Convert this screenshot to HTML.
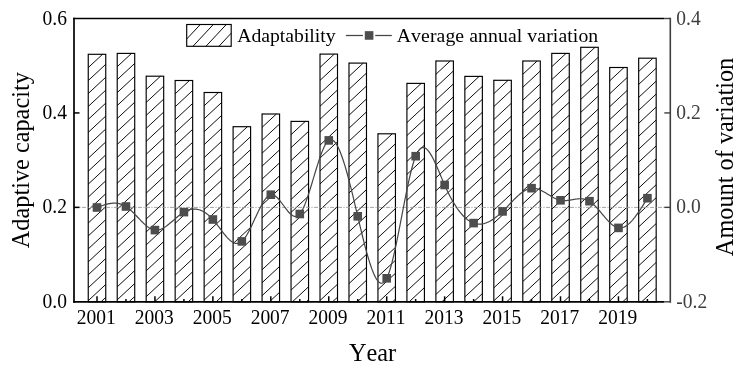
<!DOCTYPE html>
<html><head><meta charset="utf-8"><title>chart</title>
<style>html,body{margin:0;padding:0;background:#fff;}svg{display:block;will-change:transform;}text{font-family:"Liberation Serif",serif;font-kerning:none;}</style>
</head><body>
<svg width="740" height="369" viewBox="0 0 740 369">
<rect x="0" y="0" width="740" height="369" fill="#ffffff"/>
<path d="M88.25 54.65L88.63 54.30M88.25 67.60L102.55 54.30M88.25 80.55L105.75 64.27M88.25 93.50L105.75 77.22M88.25 106.45L105.75 90.17M88.25 119.40L105.75 103.12M88.25 132.35L105.75 116.07M88.25 145.30L105.75 129.02M88.25 158.25L105.75 141.97M88.25 171.20L105.75 154.92M88.25 184.15L105.75 167.87M88.25 197.10L105.75 180.82M88.25 210.05L105.75 193.77M88.25 223.00L105.75 206.72M88.25 235.95L105.75 219.67M88.25 248.90L105.75 232.62M88.25 261.85L105.75 245.58M88.25 274.80L105.75 258.52M88.25 287.75L105.75 271.48M88.25 300.70L105.75 284.43M100.99 301.80L105.75 297.38" stroke="#000" stroke-width="0.95" fill="none"/>
<rect x="88.25" y="54.30" width="17.50" height="247.50" fill="none" stroke="#000" stroke-width="1.15"/>
<path d="M117.22 53.75L117.60 53.40M117.22 66.70L131.52 53.40M117.22 79.65L134.72 63.38M117.22 92.60L134.72 76.32M117.22 105.55L134.72 89.27M117.22 118.50L134.72 102.22M117.22 131.45L134.72 115.17M117.22 144.40L134.72 128.12M117.22 157.35L134.72 141.07M117.22 170.30L134.72 154.03M117.22 183.25L134.72 166.97M117.22 196.20L134.72 179.92M117.22 209.15L134.72 192.87M117.22 222.10L134.72 205.82M117.22 235.05L134.72 218.78M117.22 248.00L134.72 231.72M117.22 260.95L134.72 244.67M117.22 273.90L134.72 257.62M117.22 286.85L134.72 270.57M117.22 299.80L134.72 283.53M128.99 301.80L134.72 296.48" stroke="#000" stroke-width="0.95" fill="none"/>
<rect x="117.22" y="53.40" width="17.50" height="248.40" fill="none" stroke="#000" stroke-width="1.15"/>
<path d="M146.19 76.55L146.57 76.20M146.19 89.50L160.49 76.20M146.19 102.45L163.69 86.17M146.19 115.40L163.69 99.12M146.19 128.35L163.69 112.07M146.19 141.30L163.69 125.03M146.19 154.25L163.69 137.97M146.19 167.20L163.69 150.92M146.19 180.15L163.69 163.87M146.19 193.10L163.69 176.82M146.19 206.05L163.69 189.78M146.19 219.00L163.69 202.72M146.19 231.95L163.69 215.67M146.19 244.90L163.69 228.62M146.19 257.85L163.69 241.58M146.19 270.80L163.69 254.52M146.19 283.75L163.69 267.48M146.19 296.70L163.69 280.43M154.63 301.80L163.69 293.38" stroke="#000" stroke-width="0.95" fill="none"/>
<rect x="146.19" y="76.20" width="17.50" height="225.60" fill="none" stroke="#000" stroke-width="1.15"/>
<path d="M175.16 80.85L175.54 80.50M175.16 93.80L189.46 80.50M175.16 106.75L192.66 90.47M175.16 119.70L192.66 103.42M175.16 132.65L192.66 116.37M175.16 145.60L192.66 129.32M175.16 158.55L192.66 142.28M175.16 171.50L192.66 155.22M175.16 184.45L192.66 168.17M175.16 197.40L192.66 181.12M175.16 210.35L192.66 194.07M175.16 223.30L192.66 207.03M175.16 236.25L192.66 219.97M175.16 249.20L192.66 232.92M175.16 262.15L192.66 245.87M175.16 275.10L192.66 258.82M175.16 288.05L192.66 271.78M175.16 301.00L192.66 284.73M188.22 301.80L192.66 297.68" stroke="#000" stroke-width="0.95" fill="none"/>
<rect x="175.16" y="80.50" width="17.50" height="221.30" fill="none" stroke="#000" stroke-width="1.15"/>
<path d="M204.13 92.85L204.51 92.50M204.13 105.80L218.43 92.50M204.13 118.75L221.63 102.47M204.13 131.70L221.63 115.42M204.13 144.65L221.63 128.37M204.13 157.60L221.63 141.32M204.13 170.55L221.63 154.28M204.13 183.50L221.63 167.22M204.13 196.45L221.63 180.17M204.13 209.40L221.63 193.12M204.13 222.35L221.63 206.07M204.13 235.30L221.63 219.03M204.13 248.25L221.63 231.97M204.13 261.20L221.63 244.92M204.13 274.15L221.63 257.88M204.13 287.10L221.63 270.82M204.13 300.05L221.63 283.78M216.17 301.80L221.63 296.73" stroke="#000" stroke-width="0.95" fill="none"/>
<rect x="204.13" y="92.50" width="17.50" height="209.30" fill="none" stroke="#000" stroke-width="1.15"/>
<path d="M233.10 127.05L233.48 126.70M233.10 140.00L247.40 126.70M233.10 152.95L250.60 136.67M233.10 165.90L250.60 149.62M233.10 178.85L250.60 162.57M233.10 191.80L250.60 175.53M233.10 204.75L250.60 188.47M233.10 217.70L250.60 201.42M233.10 230.65L250.60 214.37M233.10 243.60L250.60 227.32M233.10 256.55L250.60 240.28M233.10 269.50L250.60 253.22M233.10 282.45L250.60 266.18M233.10 295.40L250.60 279.12M240.14 301.80L250.60 292.08" stroke="#000" stroke-width="0.95" fill="none"/>
<rect x="233.10" y="126.70" width="17.50" height="175.10" fill="none" stroke="#000" stroke-width="1.15"/>
<path d="M262.07 114.35L262.45 114.00M262.07 127.30L276.37 114.00M262.07 140.25L279.57 123.97M262.07 153.20L279.57 136.92M262.07 166.15L279.57 149.87M262.07 179.10L279.57 162.82M262.07 192.05L279.57 175.78M262.07 205.00L279.57 188.72M262.07 217.95L279.57 201.67M262.07 230.90L279.57 214.62M262.07 243.85L279.57 227.57M262.07 256.80L279.57 240.53M262.07 269.75L279.57 253.47M262.07 282.70L279.57 266.43M262.07 295.65L279.57 279.38M269.38 301.80L279.57 292.32" stroke="#000" stroke-width="0.95" fill="none"/>
<rect x="262.07" y="114.00" width="17.50" height="187.80" fill="none" stroke="#000" stroke-width="1.15"/>
<path d="M291.04 121.75L291.42 121.40M291.04 134.70L305.34 121.40M291.04 147.65L308.54 131.38M291.04 160.60L308.54 144.33M291.04 173.55L308.54 157.28M291.04 186.50L308.54 170.22M291.04 199.45L308.54 183.18M291.04 212.40L308.54 196.12M291.04 225.35L308.54 209.08M291.04 238.30L308.54 222.03M291.04 251.25L308.54 234.97M291.04 264.20L308.54 247.93M291.04 277.15L308.54 260.88M291.04 290.10L308.54 273.83M292.38 301.80L308.54 286.78M306.31 301.80L308.54 299.73" stroke="#000" stroke-width="0.95" fill="none"/>
<rect x="291.04" y="121.40" width="17.50" height="180.40" fill="none" stroke="#000" stroke-width="1.15"/>
<path d="M320.01 54.45L320.39 54.10M320.01 67.40L334.31 54.10M320.01 80.35L337.51 64.08M320.01 93.30L337.51 77.03M320.01 106.25L337.51 89.97M320.01 119.20L337.51 102.92M320.01 132.15L337.51 115.88M320.01 145.10L337.51 128.82M320.01 158.05L337.51 141.78M320.01 171.00L337.51 154.72M320.01 183.95L337.51 167.67M320.01 196.90L337.51 180.62M320.01 209.85L337.51 193.57M320.01 222.80L337.51 206.52M320.01 235.75L337.51 219.47M320.01 248.70L337.51 232.42M320.01 261.65L337.51 245.37M320.01 274.60L337.51 258.33M320.01 287.55L337.51 271.27M320.01 300.50L337.51 284.23M332.54 301.80L337.51 297.18" stroke="#000" stroke-width="0.95" fill="none"/>
<rect x="320.01" y="54.10" width="17.50" height="247.70" fill="none" stroke="#000" stroke-width="1.15"/>
<path d="M348.98 63.45L349.36 63.10M348.98 76.40L363.28 63.10M348.98 89.35L366.48 73.08M348.98 102.30L366.48 86.03M348.98 115.25L366.48 98.97M348.98 128.20L366.48 111.92M348.98 141.15L366.48 124.88M348.98 154.10L366.48 137.82M348.98 167.05L366.48 150.78M348.98 180.00L366.48 163.72M348.98 192.95L366.48 176.67M348.98 205.90L366.48 189.62M348.98 218.85L366.48 202.57M348.98 231.80L366.48 215.52M348.98 244.75L366.48 228.47M348.98 257.70L366.48 241.42M348.98 270.65L366.48 254.37M348.98 283.60L366.48 267.33M348.98 296.55L366.48 280.27M357.26 301.80L366.48 293.23" stroke="#000" stroke-width="0.95" fill="none"/>
<rect x="348.98" y="63.10" width="17.50" height="238.70" fill="none" stroke="#000" stroke-width="1.15"/>
<path d="M377.95 134.15L378.33 133.80M377.95 147.10L392.25 133.80M377.95 160.05L395.45 143.78M377.95 173.00L395.45 156.73M377.95 185.95L395.45 169.68M377.95 198.90L395.45 182.63M377.95 211.85L395.45 195.58M377.95 224.80L395.45 208.53M377.95 237.75L395.45 221.47M377.95 250.70L395.45 234.43M377.95 263.65L395.45 247.38M377.95 276.60L395.45 260.33M377.95 289.55L395.45 273.28M378.70 301.80L395.45 286.23M392.63 301.80L395.45 299.18" stroke="#000" stroke-width="0.95" fill="none"/>
<rect x="377.95" y="133.80" width="17.50" height="168.00" fill="none" stroke="#000" stroke-width="1.15"/>
<path d="M406.92 83.75L407.30 83.40M406.92 96.70L421.22 83.40M406.92 109.65L424.42 93.38M406.92 122.60L424.42 106.32M406.92 135.55L424.42 119.28M406.92 148.50L424.42 132.22M406.92 161.45L424.42 145.17M406.92 174.40L424.42 158.12M406.92 187.35L424.42 171.07M406.92 200.30L424.42 184.03M406.92 213.25L424.42 196.97M406.92 226.20L424.42 209.92M406.92 239.15L424.42 222.87M406.92 252.10L424.42 235.82M406.92 265.05L424.42 248.78M406.92 278.00L424.42 261.73M406.92 290.95L424.42 274.68M409.18 301.80L424.42 287.62M423.10 301.80L424.42 300.57" stroke="#000" stroke-width="0.95" fill="none"/>
<rect x="406.92" y="83.40" width="17.50" height="218.40" fill="none" stroke="#000" stroke-width="1.15"/>
<path d="M435.89 61.35L436.27 61.00M435.89 74.30L450.19 61.00M435.89 87.25L453.39 70.97M435.89 100.20L453.39 83.92M435.89 113.15L453.39 96.87M435.89 126.10L453.39 109.82M435.89 139.05L453.39 122.78M435.89 152.00L453.39 135.72M435.89 164.95L453.39 148.67M435.89 177.90L453.39 161.62M435.89 190.85L453.39 174.57M435.89 203.80L453.39 187.53M435.89 216.75L453.39 200.47M435.89 229.70L453.39 213.42M435.89 242.65L453.39 226.37M435.89 255.60L453.39 239.32M435.89 268.55L453.39 252.28M435.89 281.50L453.39 265.23M435.89 294.45L453.39 278.18M441.91 301.80L453.39 291.12" stroke="#000" stroke-width="0.95" fill="none"/>
<rect x="435.89" y="61.00" width="17.50" height="240.80" fill="none" stroke="#000" stroke-width="1.15"/>
<path d="M464.86 76.75L465.24 76.40M464.86 89.70L479.16 76.40M464.86 102.65L482.36 86.38M464.86 115.60L482.36 99.32M464.86 128.55L482.36 112.28M464.86 141.50L482.36 125.22M464.86 154.45L482.36 138.17M464.86 167.40L482.36 151.12M464.86 180.35L482.36 164.07M464.86 193.30L482.36 177.03M464.86 206.25L482.36 189.97M464.86 219.20L482.36 202.92M464.86 232.15L482.36 215.87M464.86 245.10L482.36 228.82M464.86 258.05L482.36 241.78M464.86 271.00L482.36 254.72M464.86 283.95L482.36 267.68M464.86 296.90L482.36 280.62M473.52 301.80L482.36 293.57" stroke="#000" stroke-width="0.95" fill="none"/>
<rect x="464.86" y="76.40" width="17.50" height="225.40" fill="none" stroke="#000" stroke-width="1.15"/>
<path d="M493.83 80.65L494.21 80.30M493.83 93.60L508.13 80.30M493.83 106.55L511.33 90.27M493.83 119.50L511.33 103.22M493.83 132.45L511.33 116.17M493.83 145.40L511.33 129.12M493.83 158.35L511.33 142.07M493.83 171.30L511.33 155.02M493.83 184.25L511.33 167.97M493.83 197.20L511.33 180.92M493.83 210.15L511.33 193.87M493.83 223.10L511.33 206.82M493.83 236.05L511.33 219.77M493.83 249.00L511.33 232.72M493.83 261.95L511.33 245.67M493.83 274.90L511.33 258.62M493.83 287.85L511.33 271.58M493.83 300.80L511.33 284.52M506.68 301.80L511.33 297.48" stroke="#000" stroke-width="0.95" fill="none"/>
<rect x="493.83" y="80.30" width="17.50" height="221.50" fill="none" stroke="#000" stroke-width="1.15"/>
<path d="M522.80 61.35L523.18 61.00M522.80 74.30L537.10 61.00M522.80 87.25L540.30 70.97M522.80 100.20L540.30 83.92M522.80 113.15L540.30 96.87M522.80 126.10L540.30 109.82M522.80 139.05L540.30 122.78M522.80 152.00L540.30 135.72M522.80 164.95L540.30 148.67M522.80 177.90L540.30 161.62M522.80 190.85L540.30 174.57M522.80 203.80L540.30 187.53M522.80 216.75L540.30 200.47M522.80 229.70L540.30 213.42M522.80 242.65L540.30 226.37M522.80 255.60L540.30 239.32M522.80 268.55L540.30 252.28M522.80 281.50L540.30 265.23M522.80 294.45L540.30 278.18M528.82 301.80L540.30 291.12" stroke="#000" stroke-width="0.95" fill="none"/>
<rect x="522.80" y="61.00" width="17.50" height="240.80" fill="none" stroke="#000" stroke-width="1.15"/>
<path d="M551.77 53.75L552.15 53.40M551.77 66.70L566.07 53.40M551.77 79.65L569.27 63.38M551.77 92.60L569.27 76.32M551.77 105.55L569.27 89.27M551.77 118.50L569.27 102.22M551.77 131.45L569.27 115.17M551.77 144.40L569.27 128.12M551.77 157.35L569.27 141.07M551.77 170.30L569.27 154.03M551.77 183.25L569.27 166.97M551.77 196.20L569.27 179.92M551.77 209.15L569.27 192.87M551.77 222.10L569.27 205.82M551.77 235.05L569.27 218.78M551.77 248.00L569.27 231.72M551.77 260.95L569.27 244.67M551.77 273.90L569.27 257.62M551.77 286.85L569.27 270.57M551.77 299.80L569.27 283.53M563.54 301.80L569.27 296.48" stroke="#000" stroke-width="0.95" fill="none"/>
<rect x="551.77" y="53.40" width="17.50" height="248.40" fill="none" stroke="#000" stroke-width="1.15"/>
<path d="M580.74 47.65L581.12 47.30M580.74 60.60L595.04 47.30M580.74 73.55L598.24 57.27M580.74 86.50L598.24 70.22M580.74 99.45L598.24 83.17M580.74 112.40L598.24 96.12M580.74 125.35L598.24 109.07M580.74 138.30L598.24 122.02M580.74 151.25L598.24 134.97M580.74 164.20L598.24 147.92M580.74 177.15L598.24 160.87M580.74 190.10L598.24 173.82M580.74 203.05L598.24 186.77M580.74 216.00L598.24 199.72M580.74 228.95L598.24 212.67M580.74 241.90L598.24 225.62M580.74 254.85L598.24 238.57M580.74 267.80L598.24 251.52M580.74 280.75L598.24 264.48M580.74 293.70L598.24 277.43M585.96 301.80L598.24 290.38" stroke="#000" stroke-width="0.95" fill="none"/>
<rect x="580.74" y="47.30" width="17.50" height="254.50" fill="none" stroke="#000" stroke-width="1.15"/>
<path d="M609.71 67.85L610.09 67.50M609.71 80.80L624.01 67.50M609.71 93.75L627.21 77.47M609.71 106.70L627.21 90.42M609.71 119.65L627.21 103.37M609.71 132.60L627.21 116.32M609.71 145.55L627.21 129.28M609.71 158.50L627.21 142.22M609.71 171.45L627.21 155.17M609.71 184.40L627.21 168.12M609.71 197.35L627.21 181.07M609.71 210.30L627.21 194.03M609.71 223.25L627.21 206.97M609.71 236.20L627.21 219.92M609.71 249.15L627.21 232.87M609.71 262.10L627.21 245.82M609.71 275.05L627.21 258.78M609.71 288.00L627.21 271.73M609.71 300.95L627.21 284.68M622.72 301.80L627.21 297.62" stroke="#000" stroke-width="0.95" fill="none"/>
<rect x="609.71" y="67.50" width="17.50" height="234.30" fill="none" stroke="#000" stroke-width="1.15"/>
<path d="M638.68 58.55L639.06 58.20M638.68 71.50L652.98 58.20M638.68 84.45L656.18 68.17M638.68 97.40L656.18 81.12M638.68 110.35L656.18 94.07M638.68 123.30L656.18 107.02M638.68 136.25L656.18 119.97M638.68 149.20L656.18 132.92M638.68 162.15L656.18 145.87M638.68 175.10L656.18 158.82M638.68 188.05L656.18 171.78M638.68 201.00L656.18 184.72M638.68 213.95L656.18 197.67M638.68 226.90L656.18 210.62M638.68 239.85L656.18 223.57M638.68 252.80L656.18 236.52M638.68 265.75L656.18 249.47M638.68 278.70L656.18 262.43M638.68 291.65L656.18 275.38M641.69 301.80L656.18 288.33M655.62 301.80L656.18 301.27" stroke="#000" stroke-width="0.95" fill="none"/>
<rect x="638.68" y="58.20" width="17.50" height="243.60" fill="none" stroke="#000" stroke-width="1.15"/>
<line x1="74.0" y1="207.4" x2="670.3" y2="207.4" stroke="#9a9a9a" stroke-width="0.9" stroke-dasharray="4 1.4 1.2 1.4"/>
<path d="M97.00 207.50 L97.92 207.16 L98.84 206.81 L99.76 206.48 L100.68 206.14 L101.59 205.82 L102.51 205.50 L103.43 205.20 L104.35 204.91 L105.27 204.63 L106.19 204.37 L107.11 204.13 L108.03 203.91 L108.95 203.71 L109.86 203.54 L110.78 203.39 L111.70 203.28 L112.62 203.19 L113.54 203.13 L114.46 203.11 L115.38 203.13 L116.30 203.18 L117.22 203.27 L118.14 203.41 L119.05 203.58 L119.97 203.80 L120.89 204.07 L121.81 204.39 L122.73 204.76 L123.65 205.18 L124.57 205.66 L125.49 206.20 L126.41 206.79 L127.32 207.44 L128.24 208.14 L129.16 208.89 L130.08 209.68 L131.00 210.51 L131.92 211.38 L132.84 212.27 L133.76 213.19 L134.68 214.13 L135.59 215.08 L136.51 216.04 L137.43 217.01 L138.35 217.98 L139.27 218.94 L140.19 219.89 L141.11 220.83 L142.03 221.76 L142.95 222.66 L143.86 223.53 L144.78 224.37 L145.70 225.17 L146.62 225.93 L147.54 226.64 L148.46 227.30 L149.38 227.91 L150.30 228.45 L151.22 228.93 L152.13 229.34 L153.05 229.67 L153.97 229.93 L154.89 230.09 L155.81 230.17 L156.73 230.17 L157.65 230.08 L158.57 229.92 L159.49 229.68 L160.41 229.38 L161.32 229.01 L162.24 228.59 L163.16 228.11 L164.08 227.57 L165.00 227.00 L165.92 226.38 L166.84 225.72 L167.76 225.03 L168.68 224.31 L169.59 223.56 L170.51 222.80 L171.43 222.02 L172.35 221.23 L173.27 220.43 L174.19 219.63 L175.11 218.83 L176.03 218.03 L176.95 217.25 L177.86 216.48 L178.78 215.73 L179.70 215.00 L180.62 214.31 L181.54 213.64 L182.46 213.01 L183.38 212.42 L184.30 211.88 L185.22 211.38 L186.13 210.93 L187.05 210.53 L187.97 210.18 L188.89 209.88 L189.81 209.62 L190.73 209.41 L191.65 209.25 L192.57 209.15 L193.49 209.09 L194.40 209.07 L195.32 209.11 L196.24 209.20 L197.16 209.34 L198.08 209.52 L199.00 209.76 L199.92 210.05 L200.84 210.39 L201.76 210.77 L202.68 211.21 L203.59 211.70 L204.51 212.24 L205.43 212.83 L206.35 213.47 L207.27 214.16 L208.19 214.90 L209.11 215.70 L210.03 216.54 L210.95 217.44 L211.86 218.39 L212.78 219.39 L213.70 220.44 L214.62 221.54 L215.54 222.68 L216.46 223.85 L217.38 225.04 L218.30 226.26 L219.22 227.48 L220.13 228.70 L221.05 229.93 L221.97 231.14 L222.89 232.34 L223.81 233.51 L224.73 234.65 L225.65 235.75 L226.57 236.81 L227.49 237.82 L228.40 238.76 L229.32 239.64 L230.24 240.45 L231.16 241.17 L232.08 241.81 L233.00 242.36 L233.92 242.80 L234.84 243.14 L235.76 243.36 L236.68 243.46 L237.59 243.43 L238.51 243.26 L239.43 242.95 L240.35 242.49 L241.27 241.87 L242.19 241.09 L243.11 240.15 L244.03 239.05 L244.95 237.81 L245.86 236.45 L246.78 234.97 L247.70 233.38 L248.62 231.70 L249.54 229.94 L250.46 228.11 L251.38 226.23 L252.30 224.30 L253.22 222.34 L254.13 220.36 L255.05 218.36 L255.97 216.38 L256.89 214.40 L257.81 212.46 L258.73 210.55 L259.65 208.69 L260.57 206.90 L261.49 205.18 L262.40 203.55 L263.32 202.01 L264.24 200.59 L265.16 199.29 L266.08 198.12 L267.00 197.10 L267.92 196.24 L268.84 195.55 L269.76 195.04 L270.67 194.73 L271.59 194.62 L272.51 194.71 L273.43 194.97 L274.35 195.40 L275.27 195.98 L276.19 196.70 L277.11 197.54 L278.03 198.48 L278.95 199.51 L279.86 200.62 L280.78 201.79 L281.70 203.00 L282.62 204.25 L283.54 205.51 L284.46 206.77 L285.38 208.01 L286.30 209.23 L287.22 210.40 L288.13 211.51 L289.05 212.54 L289.97 213.49 L290.89 214.33 L291.81 215.05 L292.73 215.63 L293.65 216.06 L294.57 216.33 L295.49 216.42 L296.40 216.32 L297.32 216.00 L298.24 215.46 L299.16 214.68 L300.08 213.64 L301.00 212.35 L301.92 210.81 L302.84 209.05 L303.76 207.08 L304.67 204.93 L305.59 202.60 L306.51 200.12 L307.43 197.50 L308.35 194.76 L309.27 191.93 L310.19 189.01 L311.11 186.03 L312.03 182.99 L312.94 179.93 L313.86 176.86 L314.78 173.79 L315.70 170.75 L316.62 167.75 L317.54 164.81 L318.46 161.94 L319.38 159.17 L320.30 156.51 L321.22 153.98 L322.13 151.60 L323.05 149.38 L323.97 147.35 L324.89 145.51 L325.81 143.90 L326.73 142.52 L327.65 141.40 L328.57 140.54 L329.49 139.98 L330.40 139.70 L331.32 139.69 L332.24 139.96 L333.16 140.48 L334.08 141.25 L335.00 142.25 L335.92 143.49 L336.84 144.94 L337.76 146.61 L338.67 148.48 L339.59 150.53 L340.51 152.77 L341.43 155.18 L342.35 157.76 L343.27 160.49 L344.19 163.36 L345.11 166.37 L346.03 169.50 L346.94 172.75 L347.86 176.10 L348.78 179.55 L349.70 183.09 L350.62 186.71 L351.54 190.40 L352.46 194.14 L353.38 197.94 L354.30 201.77 L355.22 205.64 L356.13 209.52 L357.05 213.42 L357.97 217.33 L358.89 221.22 L359.81 225.10 L360.73 228.94 L361.65 232.75 L362.57 236.50 L363.49 240.19 L364.40 243.80 L365.32 247.33 L366.24 250.76 L367.16 254.08 L368.08 257.29 L369.00 260.36 L369.92 263.29 L370.84 266.06 L371.76 268.67 L372.67 271.10 L373.59 273.35 L374.51 275.39 L375.43 277.23 L376.35 278.84 L377.27 280.23 L378.19 281.36 L379.11 282.25 L380.03 282.86 L380.94 283.20 L381.86 283.25 L382.78 283.00 L383.70 282.44 L384.62 281.55 L385.54 280.33 L386.46 278.77 L387.38 276.85 L388.30 274.59 L389.21 272.01 L390.13 269.12 L391.05 265.96 L391.97 262.54 L392.89 258.89 L393.81 255.03 L394.73 250.98 L395.65 246.76 L396.57 242.39 L397.49 237.90 L398.40 233.31 L399.32 228.63 L400.24 223.90 L401.16 219.13 L402.08 214.35 L403.00 209.57 L403.92 204.82 L404.84 200.13 L405.76 195.50 L406.67 190.97 L407.59 186.56 L408.51 182.29 L409.43 178.18 L410.35 174.25 L411.27 170.52 L412.19 167.02 L413.11 163.77 L414.03 160.79 L414.94 158.10 L415.86 155.73 L416.78 153.68 L417.70 151.95 L418.62 150.52 L419.54 149.38 L420.46 148.53 L421.38 147.94 L422.30 147.60 L423.21 147.51 L424.13 147.65 L425.05 148.01 L425.97 148.58 L426.89 149.34 L427.81 150.28 L428.73 151.39 L429.65 152.66 L430.57 154.07 L431.49 155.62 L432.40 157.28 L433.32 159.06 L434.24 160.93 L435.16 162.88 L436.08 164.91 L437.00 166.99 L437.92 169.12 L438.84 171.29 L439.76 173.48 L440.67 175.68 L441.59 177.88 L442.51 180.06 L443.43 182.22 L444.35 184.34 L445.27 186.41 L446.19 188.42 L447.11 190.38 L448.03 192.29 L448.94 194.14 L449.86 195.93 L450.78 197.67 L451.70 199.35 L452.62 200.98 L453.54 202.56 L454.46 204.08 L455.38 205.54 L456.30 206.95 L457.21 208.30 L458.13 209.60 L459.05 210.84 L459.97 212.03 L460.89 213.16 L461.81 214.24 L462.73 215.26 L463.65 216.22 L464.57 217.13 L465.48 217.98 L466.40 218.78 L467.32 219.52 L468.24 220.21 L469.16 220.84 L470.08 221.41 L471.00 221.93 L471.92 222.40 L472.84 222.80 L473.76 223.15 L474.67 223.45 L475.59 223.69 L476.51 223.87 L477.43 224.00 L478.35 224.09 L479.27 224.12 L480.19 224.10 L481.11 224.03 L482.03 223.92 L482.94 223.76 L483.86 223.56 L484.78 223.31 L485.70 223.02 L486.62 222.68 L487.54 222.31 L488.46 221.90 L489.38 221.45 L490.30 220.96 L491.21 220.43 L492.13 219.88 L493.05 219.28 L493.97 218.66 L494.89 218.00 L495.81 217.31 L496.73 216.59 L497.65 215.85 L498.57 215.07 L499.48 214.27 L500.40 213.45 L501.32 212.60 L502.24 211.73 L503.16 210.83 L504.08 209.92 L505.00 208.99 L505.92 208.05 L506.84 207.09 L507.75 206.13 L508.67 205.17 L509.59 204.20 L510.51 203.23 L511.43 202.27 L512.35 201.31 L513.27 200.37 L514.19 199.44 L515.11 198.52 L516.03 197.63 L516.94 196.75 L517.86 195.90 L518.78 195.08 L519.70 194.29 L520.62 193.53 L521.54 192.82 L522.46 192.14 L523.38 191.50 L524.30 190.91 L525.21 190.37 L526.13 189.88 L527.05 189.44 L527.97 189.06 L528.89 188.75 L529.81 188.49 L530.73 188.31 L531.65 188.19 L532.57 188.15 L533.48 188.17 L534.40 188.25 L535.32 188.40 L536.24 188.60 L537.16 188.85 L538.08 189.15 L539.00 189.50 L539.92 189.88 L540.84 190.30 L541.75 190.75 L542.67 191.23 L543.59 191.74 L544.51 192.26 L545.43 192.80 L546.35 193.34 L547.27 193.90 L548.19 194.46 L549.11 195.02 L550.03 195.57 L550.94 196.12 L551.86 196.65 L552.78 197.17 L553.70 197.67 L554.62 198.14 L555.54 198.58 L556.46 198.99 L557.38 199.36 L558.30 199.69 L559.21 199.98 L560.13 200.22 L561.05 200.40 L561.97 200.53 L562.89 200.62 L563.81 200.66 L564.73 200.66 L565.65 200.63 L566.57 200.56 L567.48 200.47 L568.40 200.36 L569.32 200.22 L570.24 200.08 L571.16 199.92 L572.08 199.76 L573.00 199.59 L573.92 199.43 L574.84 199.28 L575.75 199.14 L576.67 199.01 L577.59 198.90 L578.51 198.82 L579.43 198.76 L580.35 198.74 L581.27 198.75 L582.19 198.81 L583.11 198.91 L584.02 199.06 L584.94 199.26 L585.86 199.52 L586.78 199.85 L587.70 200.24 L588.62 200.70 L589.54 201.23 L590.46 201.84 L591.38 202.53 L592.30 203.28 L593.21 204.09 L594.13 204.96 L595.05 205.88 L595.97 206.84 L596.89 207.83 L597.81 208.86 L598.73 209.92 L599.65 211.00 L600.57 212.09 L601.48 213.19 L602.40 214.29 L603.32 215.39 L604.24 216.48 L605.16 217.56 L606.08 218.61 L607.00 219.64 L607.92 220.64 L608.84 221.60 L609.75 222.51 L610.67 223.38 L611.59 224.19 L612.51 224.93 L613.43 225.62 L614.35 226.22 L615.27 226.75 L616.19 227.20 L617.11 227.55 L618.02 227.81 L618.94 227.97 L619.86 228.02 L620.78 227.98 L621.70 227.83 L622.62 227.60 L623.54 227.27 L624.46 226.86 L625.38 226.37 L626.29 225.79 L627.21 225.14 L628.13 224.42 L629.05 223.62 L629.97 222.76 L630.89 221.84 L631.81 220.86 L632.73 219.82 L633.65 218.72 L634.57 217.58 L635.48 216.39 L636.40 215.16 L637.32 213.88 L638.24 212.57 L639.16 211.23 L640.08 209.86 L641.00 208.46 L641.92 207.04 L642.84 205.59 L643.75 204.14 L644.67 202.66 L645.59 201.18 L646.51 199.69 L647.43 198.20" fill="none" stroke="#444444" stroke-width="1.2" stroke-linejoin="round"/>
<rect x="92.70" y="203.20" width="8.6" height="8.6" fill="#4d4d4d"/>
<rect x="121.67" y="202.20" width="8.6" height="8.6" fill="#4d4d4d"/>
<rect x="150.64" y="225.80" width="8.6" height="8.6" fill="#4d4d4d"/>
<rect x="179.61" y="207.80" width="8.6" height="8.6" fill="#4d4d4d"/>
<rect x="208.58" y="215.20" width="8.6" height="8.6" fill="#4d4d4d"/>
<rect x="237.55" y="237.10" width="8.6" height="8.6" fill="#4d4d4d"/>
<rect x="266.52" y="190.40" width="8.6" height="8.6" fill="#4d4d4d"/>
<rect x="295.49" y="209.70" width="8.6" height="8.6" fill="#4d4d4d"/>
<rect x="324.46" y="136.10" width="8.6" height="8.6" fill="#4d4d4d"/>
<rect x="353.43" y="212.00" width="8.6" height="8.6" fill="#4d4d4d"/>
<rect x="382.40" y="274.00" width="8.6" height="8.6" fill="#4d4d4d"/>
<rect x="411.37" y="151.90" width="8.6" height="8.6" fill="#4d4d4d"/>
<rect x="440.34" y="180.70" width="8.6" height="8.6" fill="#4d4d4d"/>
<rect x="469.31" y="218.80" width="8.6" height="8.6" fill="#4d4d4d"/>
<rect x="498.28" y="207.10" width="8.6" height="8.6" fill="#4d4d4d"/>
<rect x="527.25" y="183.90" width="8.6" height="8.6" fill="#4d4d4d"/>
<rect x="556.22" y="196.00" width="8.6" height="8.6" fill="#4d4d4d"/>
<rect x="585.19" y="196.90" width="8.6" height="8.6" fill="#4d4d4d"/>
<rect x="614.16" y="223.60" width="8.6" height="8.6" fill="#4d4d4d"/>
<rect x="643.13" y="193.90" width="8.6" height="8.6" fill="#4d4d4d"/>
<line x1="670.3" y1="17.65" x2="670.3" y2="302.65000000000003" stroke="#3f3f3f" stroke-width="1.6"/>
<line x1="664.3" y1="18.50" x2="670.3" y2="18.50" stroke="#3f3f3f" stroke-width="1.4"/>
<line x1="664.3" y1="112.93" x2="670.3" y2="112.93" stroke="#3f3f3f" stroke-width="1.4"/>
<line x1="664.3" y1="207.37" x2="670.3" y2="207.37" stroke="#3f3f3f" stroke-width="1.4"/>
<line x1="664.3" y1="301.80" x2="670.3" y2="301.80" stroke="#3f3f3f" stroke-width="1.4"/>
<line x1="73.15" y1="18.5" x2="664.3" y2="18.5" stroke="#000" stroke-width="1.7"/>
<line x1="73.15" y1="301.8" x2="664.3" y2="301.8" stroke="#000" stroke-width="1.7"/>
<line x1="74.0" y1="17.65" x2="74.0" y2="302.65000000000003" stroke="#000" stroke-width="1.7"/>
<line x1="74.0" y1="207.37" x2="79.5" y2="207.37" stroke="#000" stroke-width="1.5"/>
<line x1="74.0" y1="112.93" x2="79.5" y2="112.93" stroke="#000" stroke-width="1.5"/>
<line x1="97.00" y1="301.8" x2="97.00" y2="296.3" stroke="#000" stroke-width="1.5"/>
<line x1="125.97" y1="301.8" x2="125.97" y2="299.0" stroke="#000" stroke-width="1.5"/>
<line x1="154.94" y1="301.8" x2="154.94" y2="296.3" stroke="#000" stroke-width="1.5"/>
<line x1="183.91" y1="301.8" x2="183.91" y2="299.0" stroke="#000" stroke-width="1.5"/>
<line x1="212.88" y1="301.8" x2="212.88" y2="296.3" stroke="#000" stroke-width="1.5"/>
<line x1="241.85" y1="301.8" x2="241.85" y2="299.0" stroke="#000" stroke-width="1.5"/>
<line x1="270.82" y1="301.8" x2="270.82" y2="296.3" stroke="#000" stroke-width="1.5"/>
<line x1="299.79" y1="301.8" x2="299.79" y2="299.0" stroke="#000" stroke-width="1.5"/>
<line x1="328.76" y1="301.8" x2="328.76" y2="296.3" stroke="#000" stroke-width="1.5"/>
<line x1="357.73" y1="301.8" x2="357.73" y2="299.0" stroke="#000" stroke-width="1.5"/>
<line x1="386.70" y1="301.8" x2="386.70" y2="296.3" stroke="#000" stroke-width="1.5"/>
<line x1="415.67" y1="301.8" x2="415.67" y2="299.0" stroke="#000" stroke-width="1.5"/>
<line x1="444.64" y1="301.8" x2="444.64" y2="296.3" stroke="#000" stroke-width="1.5"/>
<line x1="473.61" y1="301.8" x2="473.61" y2="299.0" stroke="#000" stroke-width="1.5"/>
<line x1="502.58" y1="301.8" x2="502.58" y2="296.3" stroke="#000" stroke-width="1.5"/>
<line x1="531.55" y1="301.8" x2="531.55" y2="299.0" stroke="#000" stroke-width="1.5"/>
<line x1="560.52" y1="301.8" x2="560.52" y2="296.3" stroke="#000" stroke-width="1.5"/>
<line x1="589.49" y1="301.8" x2="589.49" y2="299.0" stroke="#000" stroke-width="1.5"/>
<line x1="618.46" y1="301.8" x2="618.46" y2="296.3" stroke="#000" stroke-width="1.5"/>
<line x1="647.43" y1="301.8" x2="647.43" y2="299.0" stroke="#000" stroke-width="1.5"/>
<text transform="translate(66.9 307.80) scale(1 1.03)" font-size="19.5" text-anchor="end" fill="#000">0.0</text>
<text transform="translate(66.9 213.37) scale(1 1.03)" font-size="19.5" text-anchor="end" fill="#000">0.2</text>
<text transform="translate(66.9 118.93) scale(1 1.03)" font-size="19.5" text-anchor="end" fill="#000">0.4</text>
<text transform="translate(66.9 24.50) scale(1 1.03)" font-size="19.5" text-anchor="end" fill="#000">0.6</text>
<text transform="translate(676.3 307.80) scale(1 1.03)" font-size="19.5" text-anchor="start" fill="#3f3f3f">-0.2</text>
<text transform="translate(676.3 213.37) scale(1 1.03)" font-size="19.5" text-anchor="start" fill="#3f3f3f">0.0</text>
<text transform="translate(676.3 118.93) scale(1 1.03)" font-size="19.5" text-anchor="start" fill="#3f3f3f">0.2</text>
<text transform="translate(676.3 24.50) scale(1 1.03)" font-size="19.5" text-anchor="start" fill="#3f3f3f">0.4</text>
<text transform="translate(96.30 323.85) scale(1 1.03)" font-size="19.5" text-anchor="middle" fill="#000">2001</text>
<text transform="translate(154.24 323.85) scale(1 1.03)" font-size="19.5" text-anchor="middle" fill="#000">2003</text>
<text transform="translate(212.18 323.85) scale(1 1.03)" font-size="19.5" text-anchor="middle" fill="#000">2005</text>
<text transform="translate(270.12 323.85) scale(1 1.03)" font-size="19.5" text-anchor="middle" fill="#000">2007</text>
<text transform="translate(328.06 323.85) scale(1 1.03)" font-size="19.5" text-anchor="middle" fill="#000">2009</text>
<text transform="translate(386.00 323.85) scale(1 1.03)" font-size="19.5" text-anchor="middle" fill="#000">2011</text>
<text transform="translate(443.94 323.85) scale(1 1.03)" font-size="19.5" text-anchor="middle" fill="#000">2013</text>
<text transform="translate(501.88 323.85) scale(1 1.03)" font-size="19.5" text-anchor="middle" fill="#000">2015</text>
<text transform="translate(559.82 323.85) scale(1 1.03)" font-size="19.5" text-anchor="middle" fill="#000">2017</text>
<text transform="translate(617.76 323.85) scale(1 1.03)" font-size="19.5" text-anchor="middle" fill="#000">2019</text>
<text x="372.6" y="360.7" font-size="24.3" text-anchor="middle" fill="#000">Year</text>
<text transform="translate(28.5 160.2) rotate(-90)" font-size="24.3" text-anchor="middle" fill="#000">Adaptive capacity</text>
<text transform="translate(732.7 156.95) rotate(-90)" font-size="24.3" text-anchor="middle" fill="#000">Amount of variation</text>
<path d="M186.70 25.14L187.30 24.50M186.70 39.05L200.30 24.50M192.93 46.30L213.30 24.50M205.93 46.30L226.30 24.50M218.93 46.30L231.20 33.17" stroke="#000" stroke-width="0.95" fill="none"/>
<rect x="186.7" y="24.5" width="44.50" height="21.80" fill="none" stroke="#000" stroke-width="1.15"/>
<text x="237.2" y="41.9" font-size="19.7" fill="#000">Adaptability</text>
<line x1="345.9" y1="35.5" x2="362.9" y2="35.5" stroke="#444444" stroke-width="1.25"/>
<line x1="375.2" y1="35.5" x2="391.8" y2="35.5" stroke="#444444" stroke-width="1.25"/>
<rect x="364.80" y="31.15" width="8.6" height="8.6" fill="#4d4d4d"/>
<text x="396.8" y="41.9" font-size="19.7" textLength="201.4" lengthAdjust="spacing" fill="#000">Average annual variation</text>
</svg></body></html>
